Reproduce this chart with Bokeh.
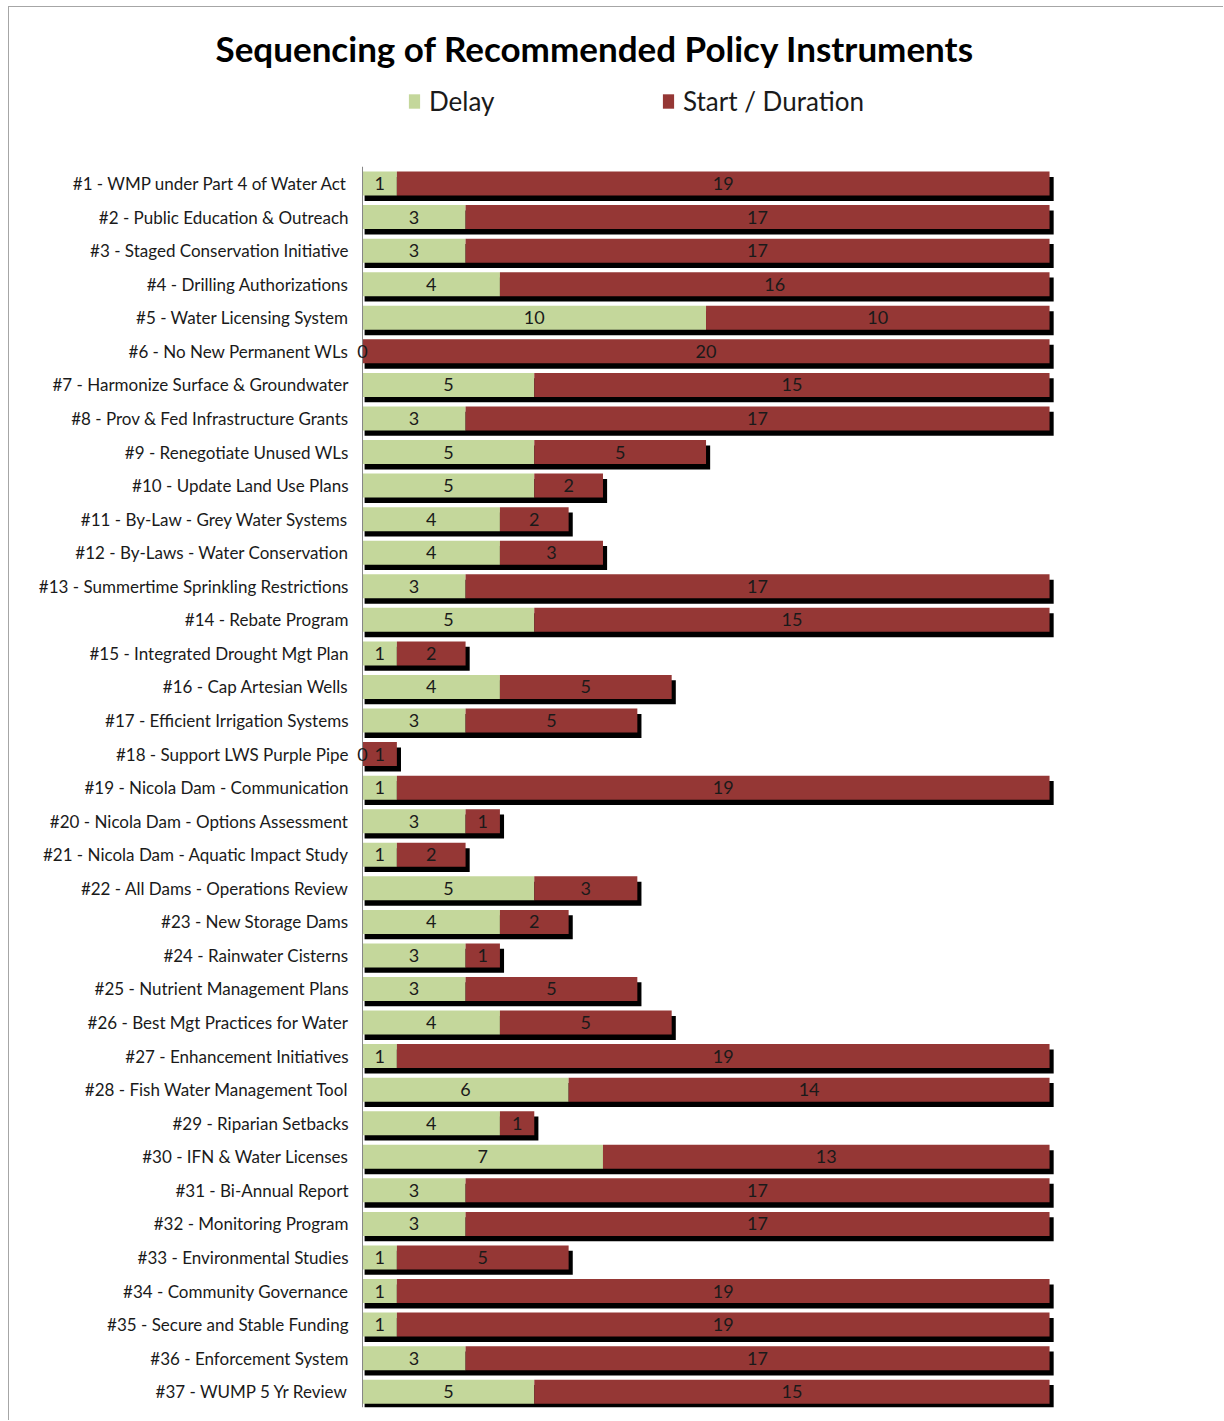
from bokeh.plotting import figure
from bokeh.models import ColumnDataSource, Range1d, Legend, FixedTicker, LabelSet
from bokeh.core.properties import value
from bokeh.embed import file_html
from bokeh.resources import INLINE

categories = [
    "#1 - WMP under Part 4 of Water Act",
    "#2 - Public Education & Outreach",
    "#3 - Staged Conservation Initiative",
    "#4 - Drilling Authorizations",
    "#5 - Water Licensing System",
    "#6 - No New Permanent WLs",
    "#7 - Harmonize Surface & Groundwater",
    "#8 - Prov & Fed Infrastructure Grants",
    "#9 - Renegotiate Unused WLs",
    "#10 - Update Land Use Plans",
    "#11 - By-Law - Grey Water Systems",
    "#12 - By-Laws - Water Conservation",
    "#13 - Summertime Sprinkling Restrictions",
    "#14 - Rebate Program",
    "#15 - Integrated Drought Mgt Plan",
    "#16 - Cap Artesian Wells",
    "#17 - Efficient Irrigation Systems",
    "#18 - Support LWS Purple Pipe",
    "#19 - Nicola Dam - Communication",
    "#20 - Nicola Dam - Options Assessment",
    "#21 - Nicola Dam - Aquatic Impact Study",
    "#22 - All Dams - Operations Review",
    "#23 - New Storage Dams",
    "#24 - Rainwater Cisterns",
    "#25 - Nutrient Management Plans",
    "#26 - Best Mgt Practices for Water",
    "#27 - Enhancement Initiatives",
    "#28 - Fish Water Management Tool",
    "#29 - Riparian Setbacks",
    "#30 - IFN & Water Licenses",
    "#31 - Bi-Annual Report",
    "#32 - Monitoring Program",
    "#33 - Environmental Studies",
    "#34 - Community Governance",
    "#35 - Secure and Stable Funding",
    "#36 - Enforcement System",
    "#37 - WUMP 5 Yr Review",
]
delay = [1, 3, 3, 4, 10, 0, 5, 3, 5, 5, 4, 4, 3, 5, 1, 4, 3, 0, 1, 3, 1, 5, 4, 3, 3, 4, 1, 6, 4, 7, 3, 3, 1, 1, 1, 3, 5]
duration = [19, 17, 17, 16, 10, 20, 15, 17, 5, 2, 2, 3, 17, 15, 2, 5, 5, 1, 19, 1, 2, 3, 2, 1, 5, 5, 19, 14, 1, 13, 17, 17, 5, 19, 19, 17, 15]

GREEN = "#c4d79b"
RED = "#953735"
FONT = "Lato"
TXT = "#1a1a1a"
AXIS = "#868686"

n = len(categories)
pos = list(range(n))
total = [d + s for d, s in zip(delay, duration)]
SH_DX0, SH_DX1, SH_DY = 0.06, 0.12, 0.16
src = ColumnDataSource(dict(
    pos=pos,
    delay=delay,
    duration=duration,
    total=total,
    shadow_y=[i + SH_DY for i in pos],
    shadow_left=[SH_DX0] * n,
    shadow_right=[t + SH_DX1 for t in total],
    d_mid=[d / 2 for d in delay],
    s_mid=[d + s / 2 for d, s in zip(delay, duration)],
    d_txt=[str(d) for d in delay],
    s_txt=[str(s) for s in duration],
))

Y_BOTTOM = 36.47
p = figure(
    width=1215, height=1414,
    y_range=Range1d(Y_BOTTOM, -3.13),
    x_range=Range1d(-0.35, 23.23),
    output_backend="svg", toolbar_location=None,
    min_border_left=341, min_border_right=64,
    min_border_top=71, min_border_bottom=14,
)

BAR_H = 0.715
p.hbar(y="shadow_y", left="shadow_left", right="shadow_right",
       height=BAR_H, source=src, fill_color="black", line_color=None)
r1 = p.hbar(y="pos", left=0, right="delay", height=BAR_H, source=src,
            fill_color=GREEN, line_color=None)
r2 = p.hbar(y="pos", left="delay", right="total", height=BAR_H, source=src,
            fill_color=RED, line_color=None)

# category axis line at x = 0
p.segment(x0=[0], y0=[-0.5], x1=[0], y1=[Y_BOTTOM], line_color=AXIS, line_width=1)

for xcol, tcol in (("d_mid", "d_txt"), ("s_mid", "s_txt")):
    p.add_layout(LabelSet(
        x=xcol, y="pos", text=tcol, source=src,
        text_align="center", text_baseline="middle",
        text_font=value(FONT), text_font_size=value("18px"), text_color=TXT,
    ))

legend = Legend(
    items=[("Delay", [r1]), ("Start / Duration", [r2])],
    orientation="horizontal",
    label_text_font=FONT, label_text_font_size="26px", label_text_color=TXT,
    glyph_width=14, glyph_height=18, label_standoff=8,
    label_width=200, spacing=32,
    border_line_color=None, background_fill_alpha=0,
    padding=0, margin=0, location=(57, 1290),
)
p.add_layout(legend, "center")

p.title.text = "Sequencing of Recommended Policy Instruments"
p.title.text_font = FONT
p.title.text_font_size = "35px"
p.title.text_font_style = "bold"
p.title.text_color = "black"
p.title.align = "left"
p.title.offset = -135
p.title.standoff = 20

p.xaxis.visible = False
p.xgrid.visible = False
p.ygrid.visible = False
p.outline_line_color = None

yax = p.yaxis[0]
yax.ticker = FixedTicker(ticks=pos)
yax.major_label_overrides = {i: c for i, c in zip(pos, categories)}
yax.axis_line_color = None
yax.major_tick_line_color = None
yax.major_tick_out = 0
yax.major_tick_in = 0
yax.minor_tick_line_color = None
yax.major_label_standoff = 2
yax.major_label_text_font = FONT
yax.major_label_text_font_size = "17px"
yax.major_label_text_color = TXT

p.styles = {"margin": "6px 0 0 8px",
            "border-top": "1px solid #a6a6a6", "border-left": "1px solid #a6a6a6"}

open("out.html", "w").write(file_html(p, INLINE))
